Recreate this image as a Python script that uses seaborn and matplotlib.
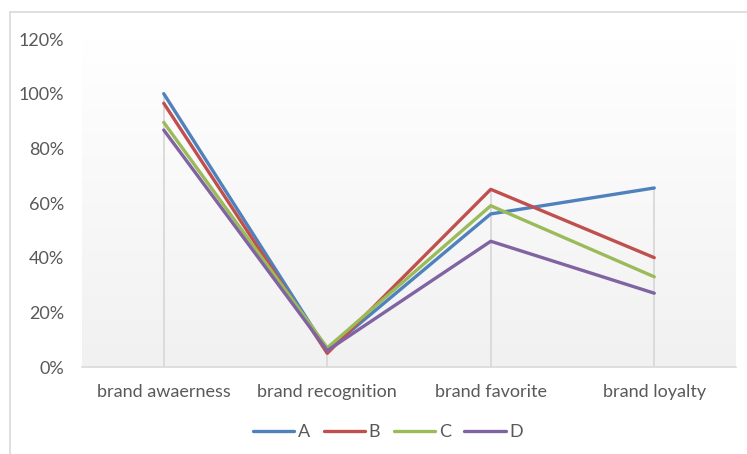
import numpy as np
import pandas as pd
import matplotlib
matplotlib.use("Agg")
import matplotlib.pyplot as plt
from matplotlib.patches import Rectangle
import seaborn as sns

stages = ["brand awaerness", "brand recognition", "brand favorite", "brand loyalty"]
series_a = [1.00, 0.06, 0.56, 0.655]
series_b = [0.965, 0.05, 0.65, 0.40]
series_c = [0.895, 0.07, 0.59, 0.33]
series_d = [0.867, 0.06, 0.46, 0.27]
series_names = ["A", "B", "C", "D"]
colors = ["#4F81BD", "#C0504D", "#9BBB59", "#8064A2"]
yticks = [0, 0.2, 0.4, 0.6, 0.8, 1.0, 1.2]

values = [series_a, series_b, series_c, series_d]
df = pd.DataFrame({
    "stage": stages * len(series_names),
    "pos": list(range(len(stages))) * len(series_names),
    "share": [v for s in values for v in s],
    "brand": [n for n in series_names for _ in stages],
})

sns.set_theme(style="white")
plt.rcParams["font.family"] = ["Lato", "DejaVu Sans"]

W, H = 747, 454
fig = plt.figure(figsize=(W / 100, H / 100), dpi=100)
fig.patch.set_facecolor("white")
# chart frame
fig.patches.append(Rectangle((10 / W, -0.1), 2.0, (H - 12) / H + 0.1,
                             transform=fig.transFigure, fill=False,
                             edgecolor="#d9d9d9", linewidth=1.2))

ax = fig.add_axes([82 / W, (H - 367) / H, (736 - 82) / W, (367 - 39) / H])

# soft vertical gradient in plot area
grad = np.linspace(0, 1, 256).reshape(-1, 1)
cmap = matplotlib.colors.LinearSegmentedColormap.from_list("bg", ["#f1f1f1", "#ffffff"])
ax.imshow(grad, extent=[-0.5, 3.5, 0, 1.2], origin="lower", aspect="auto",
          cmap=cmap, zorder=0)

# drop lines from the highest point of each stage
tops = df.groupby("pos")["share"].max()
ax.vlines(tops.index, 0, tops.values, color="#d9d9d9", linewidth=1.3, zorder=1)

sns.lineplot(data=df, x="pos", y="share", hue="brand", palette=colors,
             linewidth=2.4, sort=False, ax=ax, legend=True, zorder=3)

ax.set_xlim(-0.5, 3.5)
ax.set_ylim(0, 1.2)
ax.set_yticks(yticks)
ax.set_yticklabels([f"{int(round(t * 100))}%" for t in yticks])
ax.set_xticks(range(len(stages)))
ax.set_xticklabels(stages)
ax.set_xlabel("")
ax.set_ylabel("")
ax.tick_params(axis="both", length=0, labelsize=13, colors="#595959")
ax.tick_params(axis="y", pad=13)
ax.tick_params(axis="x", pad=12)
for side in ["top", "left", "right"]:
    ax.spines[side].set_visible(False)
ax.spines["bottom"].set_color("#d9d9d9")
ax.spines["bottom"].set_linewidth(1.2)
ax.grid(False)

handles, labels = ax.get_legend_handles_labels()
leg = ax.legend(handles, labels, loc="center",
                bbox_to_anchor=((388 - 82) / (736 - 82), (367 - 432) / (367 - 39)),
                ncol=4, frameon=False, fontsize=13, handlelength=2.3,
                handletextpad=0.2, columnspacing=0.75)
for t in leg.get_texts():
    t.set_color("#595959")

fig.savefig("out.png", dpi=100)
